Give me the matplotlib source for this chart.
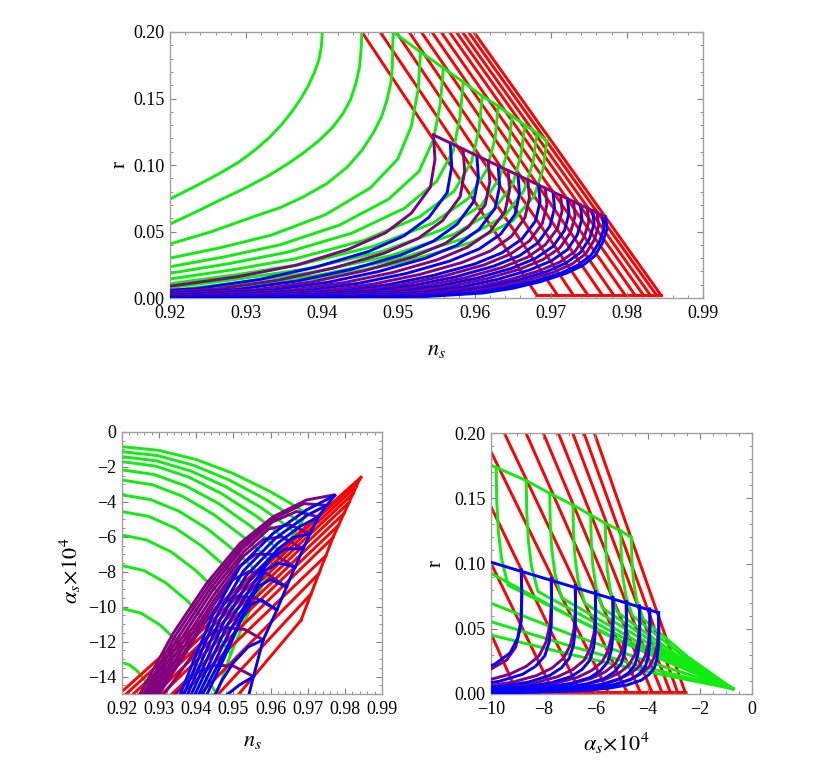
import matplotlib
matplotlib.use("Agg")
import matplotlib.pyplot as plt
from matplotlib.ticker import FixedLocator, FuncFormatter

plt.rcParams['font.family'] = ['Liberation Serif', 'DejaVu Serif']
plt.rcParams['mathtext.fontset'] = 'stix'

RED, GREEN, BLUE, PURPLE = '#ff0000', '#10ec10', '#0000ff', '#800080'
LW = 2.1

# ---------------- top panel: n_s vs r ----------------
top_red_ns_top = [0.9452, 0.9476, 0.9497, 0.9514, 0.9530, 0.9544, 0.9556, 0.9567, 0.9576, 0.9584, 0.9592, 0.9599]
top_red_ns_bot = [0.9682, 0.9709, 0.9730, 0.9749, 0.9768, 0.9783, 0.9798, 0.9811, 0.9822, 0.9831, 0.9839, 0.9845]
top_red_r_top = 0.200
top_red_r_bot = 0.002

top_green = [
    ([0.9200, 0.9240, 0.9266, 0.9290, 0.9311, 0.9331, 0.9346, 0.9360, 0.9372, 0.9382, 0.9390, 0.9396, 0.9399, 0.9400],
     [0.0744, 0.0860, 0.0940, 0.1020, 0.1110, 0.1210, 0.1300, 0.1400, 0.1500, 0.1600, 0.1700, 0.1800, 0.1900, 0.2000]),
    ([0.9200, 0.9235, 0.9266, 0.9300, 0.9331, 0.9355, 0.9375, 0.9396, 0.9414, 0.9427, 0.9437, 0.9444, 0.9449, 0.9451, 0.9452],
     [0.0556, 0.0650, 0.0737, 0.0830, 0.0925, 0.1010, 0.1090, 0.1185, 0.1286, 0.1385, 0.1490, 0.1610, 0.1740, 0.1870, 0.2000]),
    ([0.9200, 0.9255, 0.9309, 0.9345, 0.9375, 0.9406, 0.9433, 0.9452, 0.9467, 0.9478, 0.9485, 0.9490, 0.9492, 0.9493],
     [0.0406, 0.0500, 0.0610, 0.0680, 0.0760, 0.0860, 0.0985, 0.1110, 0.1240, 0.1365, 0.1490, 0.1615, 0.1740, 0.2000]),
    ([0.9200, 0.9266, 0.9332, 0.9404, 0.9463, 0.9499, 0.9517, 0.9526, 0.9529], [0.0300, 0.0378, 0.0471, 0.0626, 0.0827, 0.1044, 0.1292, 0.1571, 0.1850]),
    ([0.9200, 0.9272, 0.9344, 0.9423, 0.9487, 0.9527, 0.9546, 0.9555, 0.9559], [0.0235, 0.0310, 0.0399, 0.0549, 0.0743, 0.0952, 0.1191, 0.1460, 0.1729]),
    ([0.9200, 0.9277, 0.9354, 0.9439, 0.9508, 0.9550, 0.9572, 0.9581, 0.9585], [0.0186, 0.0258, 0.0344, 0.0488, 0.0675, 0.0876, 0.1106, 0.1365, 0.1624]),
    ([0.9200, 0.9282, 0.9364, 0.9454, 0.9528, 0.9573, 0.9596, 0.9606, 0.9610], [0.0143, 0.0212, 0.0294, 0.0432, 0.0611, 0.0803, 0.1024, 0.1271, 0.1519]),
    ([0.9200, 0.9286, 0.9372, 0.9467, 0.9545, 0.9592, 0.9616, 0.9627, 0.9631], [0.0107, 0.0174, 0.0254, 0.0388, 0.0562, 0.0749, 0.0963, 0.1203, 0.1444]),
    ([0.9200, 0.9290, 0.9380, 0.9478, 0.9559, 0.9609, 0.9633, 0.9645, 0.9649], [0.0078, 0.0143, 0.0220, 0.0349, 0.0517, 0.0697, 0.0904, 0.1136, 0.1368]),
    ([0.9200, 0.9293, 0.9386, 0.9489, 0.9573, 0.9624, 0.9650, 0.9661, 0.9666], [0.0055, 0.0117, 0.0192, 0.0317, 0.0479, 0.0653, 0.0852, 0.1077, 0.1301]),
    ([0.9200, 0.9296, 0.9393, 0.9499, 0.9586, 0.9639, 0.9665, 0.9677, 0.9682], [0.0038, 0.0098, 0.0170, 0.0291, 0.0447, 0.0613, 0.0808, 0.1025, 0.1241]),
    ([0.9200, 0.9299, 0.9398, 0.9507, 0.9596, 0.9650, 0.9678, 0.9690, 0.9695], [0.0025, 0.0083, 0.0152, 0.0268, 0.0418, 0.0579, 0.0764, 0.0972, 0.1180]),
]
top_green_env_ns = [0.9493, 0.9529, 0.9559, 0.9585, 0.9610, 0.9631, 0.9649, 0.9666, 0.9682, 0.9695]
top_green_env_r = [0.2000, 0.1850, 0.1729, 0.1624, 0.1519, 0.1444, 0.1368, 0.1301, 0.1241, 0.1180]

top_bp = [
    ([0.9546, 0.9548, 0.9542, 0.9517, 0.9483, 0.9435, 0.9365, 0.9289, 0.9204, 0.9052], [0.1226, 0.1042, 0.0834, 0.0638, 0.0490, 0.0368, 0.0245, 0.0160, 0.0092, 0.0030]),
    ([0.9568, 0.9570, 0.9564, 0.9540, 0.9507, 0.9461, 0.9392, 0.9318, 0.9235, 0.9087], [0.1165, 0.0990, 0.0792, 0.0606, 0.0466, 0.0350, 0.0233, 0.0140, 0.0070, 0.0023]),
    ([0.9585, 0.9587, 0.9581, 0.9558, 0.9526, 0.9481, 0.9414, 0.9342, 0.9261, 0.9117], [0.1119, 0.0951, 0.0761, 0.0582, 0.0448, 0.0336, 0.0224, 0.0134, 0.0067, 0.0022]),
    ([0.9603, 0.9605, 0.9599, 0.9577, 0.9546, 0.9502, 0.9437, 0.9367, 0.9288, 0.9148], [0.1068, 0.0908, 0.0726, 0.0555, 0.0427, 0.0320, 0.0214, 0.0128, 0.0064, 0.0021]),
    ([0.9618, 0.9620, 0.9614, 0.9592, 0.9562, 0.9519, 0.9456, 0.9388, 0.9312, 0.9176], [0.1029, 0.0875, 0.0700, 0.0535, 0.0412, 0.0309, 0.0206, 0.0123, 0.0062, 0.0021]),
    ([0.9631, 0.9633, 0.9627, 0.9606, 0.9577, 0.9535, 0.9474, 0.9408, 0.9334, 0.9202, 0.9100], [0.0993, 0.0844, 0.0675, 0.0516, 0.0397, 0.0298, 0.0199, 0.0119, 0.0060, 0.0020, 0.0005]),
    ([0.9644, 0.9646, 0.9640, 0.9620, 0.9591, 0.9551, 0.9492, 0.9428, 0.9356, 0.9228, 0.9100], [0.0957, 0.0813, 0.0651, 0.0498, 0.0383, 0.0287, 0.0191, 0.0115, 0.0057, 0.0019, 0.0005]),
    ([0.9657, 0.9659, 0.9653, 0.9634, 0.9606, 0.9567, 0.9510, 0.9448, 0.9378, 0.9254, 0.9100], [0.0922, 0.0784, 0.0627, 0.0479, 0.0369, 0.0277, 0.0184, 0.0111, 0.0055, 0.0018, 0.0004]),
    ([0.9670, 0.9672, 0.9666, 0.9648, 0.9621, 0.9583, 0.9528, 0.9468, 0.9400, 0.9280, 0.9100], [0.0886, 0.0753, 0.0602, 0.0461, 0.0354, 0.0266, 0.0177, 0.0106, 0.0053, 0.0018, 0.0004]),
    ([0.9684, 0.9686, 0.9680, 0.9662, 0.9636, 0.9600, 0.9546, 0.9488, 0.9423, 0.9307, 0.9100], [0.0850, 0.0723, 0.0578, 0.0442, 0.0340, 0.0255, 0.0170, 0.0102, 0.0051, 0.0017, 0.0003]),
    ([0.9693, 0.9695, 0.9689, 0.9672, 0.9647, 0.9612, 0.9560, 0.9504, 0.9441, 0.9329, 0.9100], [0.0825, 0.0701, 0.0561, 0.0429, 0.0330, 0.0248, 0.0165, 0.0099, 0.0050, 0.0017, 0.0003]),
    ([0.9703, 0.9705, 0.9699, 0.9683, 0.9659, 0.9625, 0.9575, 0.9521, 0.9460, 0.9352, 0.9100], [0.0796, 0.0677, 0.0541, 0.0414, 0.0318, 0.0239, 0.0159, 0.0096, 0.0048, 0.0016, 0.0003]),
    ([0.9713, 0.9715, 0.9709, 0.9693, 0.9670, 0.9637, 0.9589, 0.9537, 0.9479, 0.9375, 0.9100], [0.0771, 0.0655, 0.0524, 0.0401, 0.0308, 0.0231, 0.0154, 0.0093, 0.0046, 0.0015, 0.0003]),
    ([0.9722, 0.9724, 0.9718, 0.9703, 0.9680, 0.9649, 0.9603, 0.9553, 0.9497, 0.9397, 0.9100], [0.0746, 0.0634, 0.0507, 0.0388, 0.0298, 0.0224, 0.0149, 0.0090, 0.0045, 0.0015, 0.0002]),
    ([0.9730, 0.9732, 0.9726, 0.9712, 0.9690, 0.9660, 0.9616, 0.9568, 0.9514, 0.9418, 0.9100], [0.0725, 0.0616, 0.0493, 0.0377, 0.0290, 0.0218, 0.0145, 0.0087, 0.0044, 0.0015, 0.0002]),
    ([0.9739, 0.9741, 0.9735, 0.9722, 0.9701, 0.9672, 0.9630, 0.9584, 0.9532, 0.9440, 0.9100], [0.0700, 0.0595, 0.0476, 0.0364, 0.0280, 0.0210, 0.0140, 0.0084, 0.0042, 0.0014, 0.0002]),
    ([0.9748, 0.9750, 0.9744, 0.9732, 0.9712, 0.9684, 0.9644, 0.9600, 0.9550, 0.9462, 0.9100], [0.0675, 0.0574, 0.0459, 0.0351, 0.0270, 0.0203, 0.0135, 0.0081, 0.0041, 0.0014, 0.0002]),
    ([0.9755, 0.9757, 0.9751, 0.9739, 0.9720, 0.9694, 0.9655, 0.9613, 0.9566, 0.9482, 0.9100], [0.0657, 0.0558, 0.0447, 0.0342, 0.0263, 0.0197, 0.0131, 0.0079, 0.0039, 0.0013, 0.0002]),
    ([0.9761, 0.9763, 0.9757, 0.9746, 0.9728, 0.9703, 0.9666, 0.9626, 0.9581, 0.9501, 0.9100], [0.0639, 0.0543, 0.0435, 0.0332, 0.0256, 0.0192, 0.0128, 0.0077, 0.0038, 0.0013, 0.0002]),
    ([0.9768, 0.9770, 0.9764, 0.9753, 0.9736, 0.9713, 0.9677, 0.9639, 0.9597, 0.9521, 0.9100], [0.0621, 0.0528, 0.0422, 0.0323, 0.0248, 0.0186, 0.0124, 0.0075, 0.0037, 0.0012, 0.0002]),
    ([0.9772, 0.9774, 0.9768, 0.9758, 0.9742, 0.9719, 0.9686, 0.9650, 0.9610, 0.9538, 0.9100], [0.0610, 0.0519, 0.0415, 0.0317, 0.0244, 0.0183, 0.0122, 0.0073, 0.0037, 0.0012, 0.0002]),
]
top_bp_colors = [PURPLE, BLUE] * 10 + [BLUE]
top_env_ns = [0.9546, 0.9772]
top_env_r = [0.1226, 0.0610]

# ---------------- bottom left: n_s vs alpha_s ----------------
bl_red_bound_ns = [0.9682, 0.9709, 0.9730, 0.9749, 0.9768, 0.9783, 0.9798, 0.9811, 0.9822, 0.9831, 0.9839, 0.9843]
bl_red_bound_a = [-10.78, -9.27, -8.11, -7.08, -6.04, -5.34, -4.65, -4.04, -3.53, -3.11, -2.74, -2.60]
bl_red_far_ns = [0.9475, 0.9416, 0.9364, 0.9312, 0.9286, 0.9258, 0.9240, 0.9220, 0.9200, 0.9180, 0.9160, 0.9140]
bl_red_far_a = -16.0

bl_green = [
    ([0.9200, 0.9220, 0.9240, 0.9260, 0.9280, 0.9290, 0.9300], [-13.20, -13.33, -13.66, -14.16, -14.81, -15.18, -15.60]),
    ([0.9200, 0.9251, 0.9302, 0.9353, 0.9404, 0.9430, 0.9455], [-10.10, -10.37, -11.04, -12.06, -13.38, -14.15, -15.00]),
    ([0.9200, 0.9259, 0.9317, 0.9376, 0.9434, 0.9464, 0.9493], [-7.65, -7.93, -8.62, -9.67, -11.03, -11.83, -12.70]),
    ([0.9200, 0.9266, 0.9332, 0.9397, 0.9463, 0.9496, 0.9529], [-5.90, -6.18, -6.86, -7.90, -9.25, -10.04, -10.90]),
    ([0.9200, 0.9272, 0.9344, 0.9415, 0.9487, 0.9523, 0.9559], [-4.56, -4.83, -5.51, -6.53, -7.86, -8.65, -9.50]),
    ([0.9200, 0.9277, 0.9354, 0.9431, 0.9508, 0.9547, 0.9585], [-3.60, -3.87, -4.54, -5.56, -6.88, -7.65, -8.50]),
    ([0.9200, 0.9282, 0.9364, 0.9446, 0.9528, 0.9569, 0.9610], [-2.75, -3.02, -3.69, -4.71, -6.03, -6.80, -7.65]),
    ([0.9200, 0.9286, 0.9372, 0.9459, 0.9545, 0.9588, 0.9631], [-2.17, -2.43, -3.09, -4.08, -5.37, -6.12, -6.95]),
    ([0.9200, 0.9290, 0.9380, 0.9469, 0.9559, 0.9604, 0.9649], [-1.70, -1.95, -2.58, -3.54, -4.78, -5.50, -6.30]),
    ([0.9200, 0.9293, 0.9386, 0.9480, 0.9573, 0.9619, 0.9666], [-1.41, -1.65, -2.24, -3.14, -4.31, -5.00, -5.75]),
    ([0.9200, 0.9296, 0.9393, 0.9489, 0.9586, 0.9634, 0.9682], [-1.13, -1.35, -1.91, -2.75, -3.85, -4.50, -5.20]),
    ([0.9200, 0.9299, 0.9399, 0.9498, 0.9598, 0.9647, 0.9697], [-0.84, -1.05, -1.57, -2.36, -3.40, -4.00, -4.66]),
]
bl_green_env_ns = [0.9697, 0.9682, 0.9666, 0.9649, 0.9631, 0.9610, 0.9585, 0.9559, 0.9529, 0.9493, 0.9455, 0.9300]
bl_green_env_a = [-4.66, -5.20, -5.75, -6.30, -6.95, -7.65, -8.50, -9.50, -10.90, -12.70, -15.00, -15.60]

bl_purple = [
    ([0.9554, 0.9500, 0.9450, 0.9405, 0.9370, 0.9340], [-14.00, -13.40, -13.35, -13.75, -14.40, -15.10]),
    ([0.9580, 0.9530, 0.9480, 0.9435, 0.9395, 0.9355, 0.9310], [-11.90, -11.30, -11.20, -11.60, -12.60, -13.80, -15.10]),
    ([0.9617, 0.9560, 0.9510, 0.9465, 0.9420, 0.9370, 0.9297], [-10.19, -9.50, -9.40, -9.80, -11.00, -12.70, -15.10]),
    ([0.9643, 0.9590, 0.9540, 0.9495, 0.9445, 0.9374, 0.9290], [-8.87, -8.10, -8.00, -8.50, -9.95, -12.40, -15.10]),
    ([0.9666, 0.9610, 0.9560, 0.9515, 0.9450, 0.9368, 0.9283], [-7.73, -7.00, -7.00, -7.70, -9.55, -12.25, -15.10]),
    ([0.9688, 0.9630, 0.9580, 0.9525, 0.9448, 0.9362, 0.9276], [-6.68, -6.00, -6.15, -7.15, -9.30, -12.10, -15.10]),
    ([0.9706, 0.9650, 0.9595, 0.9528, 0.9443, 0.9356, 0.9269], [-5.82, -5.30, -5.55, -6.85, -9.10, -11.95, -15.10]),
    ([0.9729, 0.9670, 0.9605, 0.9525, 0.9438, 0.9350, 0.9262], [-4.86, -4.55, -5.15, -6.65, -8.95, -11.80, -15.10]),
    ([0.9751, 0.9690, 0.9610, 0.9522, 0.9433, 0.9344, 0.9255], [-4.20, -4.10, -4.95, -6.50, -8.80, -11.65, -15.10]),
    ([0.9769, 0.9697, 0.9607, 0.9518, 0.9428, 0.9338, 0.9248], [-3.61, -3.89, -4.85, -6.37, -8.66, -11.52, -15.00]),
]
bl_blue = [
    ([0.9554, 0.9515, 0.9482], [-14.00, -14.50, -15.05]),
    ([0.9580, 0.9540, 0.9500, 0.9470, 0.9450], [-11.90, -12.30, -13.20, -14.20, -15.05]),
    ([0.9617, 0.9575, 0.9545, 0.9520, 0.9495, 0.9465, 0.9428], [-10.19, -9.60, -9.90, -10.80, -12.00, -13.40, -15.05]),
    ([0.9643, 0.9600, 0.9570, 0.9540, 0.9505, 0.9460, 0.9416], [-8.87, -8.45, -8.80, -9.80, -11.40, -13.25, -15.05]),
    ([0.9666, 0.9620, 0.9585, 0.9555, 0.9495, 0.9450, 0.9406], [-7.73, -7.50, -7.95, -9.10, -11.20, -13.15, -15.05]),
    ([0.9688, 0.9640, 0.9600, 0.9552, 0.9485, 0.9440, 0.9396], [-6.68, -6.70, -7.25, -8.75, -11.00, -13.05, -15.05]),
    ([0.9706, 0.9660, 0.9620, 0.9545, 0.9475, 0.9430, 0.9386], [-5.82, -6.05, -6.70, -8.45, -10.85, -12.95, -15.05]),
    ([0.9729, 0.9680, 0.9620, 0.9535, 0.9465, 0.9420, 0.9376], [-4.86, -5.40, -6.35, -8.20, -10.70, -12.85, -15.05]),
    ([0.9751, 0.9700, 0.9615, 0.9527, 0.9455, 0.9410, 0.9366], [-4.20, -4.75, -6.05, -7.95, -10.55, -12.75, -15.05]),
    ([0.9773, 0.9697, 0.9607, 0.9518, 0.9446, 0.9401, 0.9356], [-3.63, -4.46, -5.80, -7.71, -10.38, -12.67, -15.05]),
]
bl_tips_ns = [0.9530, 0.9554, 0.9580, 0.9617, 0.9643, 0.9666, 0.9688, 0.9706, 0.9729, 0.9751, 0.9773]
bl_tips_a = [-16.00, -14.00, -11.90, -10.19, -8.87, -7.73, -6.68, -5.82, -4.86, -4.20, -3.63]

# ---------------- bottom right: alpha_s vs r ----------------
br_red = [
    ([-10.30, -9.02], [0.0600, 0.0018]),
    ([-10.30, -7.62], [0.1125, 0.0018]),
    ([-10.30, -6.59], [0.1560, 0.0018]),
    ([-10.30, -5.52], [0.1980, 0.0018]),
    ([-9.49, -4.80], [0.2000, 0.0018]),
    ([-8.66, -4.29], [0.2000, 0.0018]),
    ([-8.00, -3.84], [0.2000, 0.0018]),
    ([-7.42, -3.46], [0.2000, 0.0018]),
    ([-6.87, -3.14], [0.2000, 0.0018]),
    ([-6.44, -2.86], [0.2000, 0.0018]),
    ([-6.04, -2.57], [0.2000, 0.0018]),
]
br_red_base_a = [-10.75, -2.57]
br_red_base_r = [0.0018, 0.0018]

br_green = [
    ([-10.00, -7.00, -4.00, -0.73], [0.0452, 0.0305, 0.0170, 0.0040]),
    ([-10.00, -7.00, -4.00, -0.73], [0.0554, 0.0370, 0.0200, 0.0040]),
    ([-10.00, -7.00, -4.00, -0.73], [0.0695, 0.0460, 0.0250, 0.0040]),
    ([-10.00, -7.00, -4.00, -0.73], [0.0925, 0.0600, 0.0310, 0.0040]),
    ([-9.80, -9.78, -9.72, -9.60, -9.35, -5.04, -0.73], [0.1737, 0.1476, 0.1251, 0.1042, 0.0834, 0.0402, 0.0040]),
    ([-8.65, -8.63, -8.57, -8.45, -8.20, -4.47, -0.73], [0.1635, 0.1390, 0.1177, 0.0981, 0.0785, 0.0380, 0.0040]),
    ([-7.75, -7.73, -7.67, -7.55, -7.30, -4.02, -0.73], [0.1538, 0.1307, 0.1107, 0.0923, 0.0738, 0.0358, 0.0040]),
    ([-6.86, -6.84, -6.78, -6.66, -6.41, -3.57, -0.73], [0.1448, 0.1231, 0.1043, 0.0869, 0.0695, 0.0338, 0.0040]),
    ([-6.18, -6.16, -6.10, -5.98, -5.73, -3.23, -0.73], [0.1372, 0.1166, 0.0988, 0.0823, 0.0659, 0.0322, 0.0040]),
    ([-5.62, -5.60, -5.54, -5.42, -5.17, -2.95, -0.73], [0.1308, 0.1112, 0.0942, 0.0785, 0.0628, 0.0307, 0.0040]),
    ([-5.03, -5.01, -4.95, -4.83, -4.58, -2.66, -0.73], [0.1250, 0.1063, 0.0900, 0.0750, 0.0600, 0.0294, 0.0040]),
    ([-4.62, -4.60, -4.54, -4.42, -4.17, -2.45, -0.73], [0.1200, 0.1020, 0.0864, 0.0720, 0.0576, 0.0283, 0.0040]),
]
br_green_env_a = [-10.50, -9.80, -8.65, -7.75, -6.86, -6.18, -5.62, -5.03, -4.62]
br_green_env_r = [0.1790, 0.1737, 0.1635, 0.1538, 0.1448, 0.1372, 0.1308, 0.1250, 0.1200]

br_blue = [
    ([-8.84, -8.82, -8.84, -8.98, -9.27, -9.86, -10.71], [0.0950, 0.0760, 0.0570, 0.0428, 0.0314, 0.0228, 0.0162]),
    ([-7.69, -7.68, -7.69, -7.77, -7.94, -8.29, -8.79, -9.69, -10.89], [0.0886, 0.0709, 0.0532, 0.0399, 0.0292, 0.0213, 0.0151, 0.0097, 0.0062]),
    ([-6.77, -6.76, -6.77, -6.84, -7.00, -7.31, -7.76, -8.57, -9.65, -10.91], [0.0830, 0.0664, 0.0498, 0.0374, 0.0274, 0.0199, 0.0141, 0.0091, 0.0058, 0.0037]),
    ([-6.00, -5.99, -6.00, -6.07, -6.21, -6.51, -6.94, -7.70, -8.72, -9.91, -11.53], [0.0784, 0.0627, 0.0470, 0.0353, 0.0259, 0.0188, 0.0133, 0.0086, 0.0055, 0.0035, 0.0024]),
    ([-5.33, -5.32, -5.33, -5.39, -5.53, -5.81, -6.21, -6.93, -7.89, -9.01, -10.53], [0.0741, 0.0593, 0.0445, 0.0333, 0.0245, 0.0178, 0.0126, 0.0082, 0.0052, 0.0033, 0.0022]),
    ([-4.82, -4.81, -4.82, -4.88, -5.01, -5.27, -5.65, -6.32, -7.22, -8.27, -9.70, -11.57], [0.0707, 0.0566, 0.0424, 0.0318, 0.0233, 0.0170, 0.0120, 0.0078, 0.0049, 0.0032, 0.0021, 0.0014]),
    ([-4.31, -4.30, -4.31, -4.37, -4.49, -4.73, -5.08, -5.71, -6.55, -7.53, -8.86, -10.61], [0.0674, 0.0539, 0.0404, 0.0303, 0.0222, 0.0162, 0.0115, 0.0074, 0.0047, 0.0030, 0.0020, 0.0013]),
    ([-3.92, -3.91, -3.92, -3.97, -4.08, -4.31, -4.64, -5.22, -6.00, -6.91, -8.15, -9.77, -11.00], [0.0651, 0.0521, 0.0391, 0.0293, 0.0215, 0.0156, 0.0111, 0.0072, 0.0046, 0.0029, 0.0020, 0.0013, 0.0010]),
    ([-3.58, -3.57, -3.58, -3.63, -3.73, -3.94, -4.24, -4.78, -5.50, -6.34, -7.48, -8.98, -11.00], [0.0623, 0.0498, 0.0374, 0.0280, 0.0206, 0.0150, 0.0106, 0.0069, 0.0044, 0.0028, 0.0019, 0.0012, 0.0008]),
]
br_purple = [
    ([-8.84, -8.82, -8.86, -9.05, -9.40, -10.10], [0.0950, 0.0760, 0.0520, 0.0360, 0.0260, 0.0180]),
    ([-7.69, -7.68, -7.74, -7.89, -8.16, -8.64, -9.29, -10.29, -11.49], [0.0886, 0.0709, 0.0532, 0.0399, 0.0292, 0.0213, 0.0151, 0.0097, 0.0062]),
    ([-6.77, -6.76, -6.82, -6.96, -7.22, -7.66, -8.26, -9.17, -10.25, -11.51], [0.0830, 0.0664, 0.0498, 0.0374, 0.0274, 0.0199, 0.0141, 0.0091, 0.0058, 0.0037]),
    ([-6.00, -5.99, -6.05, -6.19, -6.43, -6.86, -7.44, -8.30, -9.32, -10.51, -12.13], [0.0784, 0.0627, 0.0470, 0.0353, 0.0259, 0.0188, 0.0133, 0.0086, 0.0055, 0.0035, 0.0024]),
    ([-5.33, -5.32, -5.38, -5.51, -5.75, -6.16, -6.71, -7.53, -8.49, -9.61, -11.13], [0.0741, 0.0593, 0.0445, 0.0333, 0.0245, 0.0178, 0.0126, 0.0082, 0.0052, 0.0033, 0.0022]),
    ([-4.82, -4.81, -4.87, -5.00, -5.23, -5.62, -6.15, -6.92, -7.82, -8.87, -10.30, -12.17], [0.0707, 0.0566, 0.0424, 0.0318, 0.0233, 0.0170, 0.0120, 0.0078, 0.0049, 0.0032, 0.0021, 0.0014]),
    ([-4.31, -4.30, -4.36, -4.49, -4.71, -5.08, -5.58, -6.31, -7.15, -8.13, -9.46, -11.21], [0.0674, 0.0539, 0.0404, 0.0303, 0.0222, 0.0162, 0.0115, 0.0074, 0.0047, 0.0030, 0.0020, 0.0013]),
    ([-3.92, -3.91, -3.97, -4.09, -4.30, -4.66, -5.14, -5.82, -6.60, -7.51, -8.75, -10.37, -11.60], [0.0651, 0.0521, 0.0391, 0.0293, 0.0215, 0.0156, 0.0111, 0.0072, 0.0046, 0.0029, 0.0020, 0.0013, 0.0010]),
    ([-3.58, -3.57, -3.63, -3.75, -3.95, -4.29, -4.74, -5.38, -6.10, -6.94, -8.08, -9.58, -11.60], [0.0623, 0.0498, 0.0374, 0.0280, 0.0206, 0.0150, 0.0106, 0.0069, 0.0044, 0.0028, 0.0019, 0.0012, 0.0008]),
]
br_env_a = [-10.50, -3.58]
br_env_r = [0.1040, 0.0623]

ns_ticks = [0.92, 0.93, 0.94, 0.95, 0.96, 0.97, 0.98, 0.99]
r_ticks = [0.00, 0.05, 0.10, 0.15, 0.20]
a_ticks_left = [0, -2, -4, -6, -8, -10, -12, -14]
a_ticks_right = [-10, -8, -6, -4, -2, 0]


def minus(v, p):
    return f"{v:.0f}".replace("-", "\u2212")


def two(v, p):
    return f"{v:.2f}"


def frame(ax, xt, xminor, yt, yminor, xfmt, yfmt):
    ax.xaxis.set_major_locator(FixedLocator(xt))
    ax.yaxis.set_major_locator(FixedLocator(yt))
    ax.xaxis.set_minor_locator(FixedLocator(xminor))
    ax.yaxis.set_minor_locator(FixedLocator(yminor))
    ax.xaxis.set_major_formatter(FuncFormatter(xfmt))
    ax.yaxis.set_major_formatter(FuncFormatter(yfmt))
    ax.tick_params(which='both', direction='in', top=True, right=True,
                   color='#808080', labelsize=13)
    ax.tick_params(axis='x', pad=5)
    ax.tick_params(axis='y', pad=4)
    ax.tick_params(which='major', length=4.5, width=0.8)
    ax.tick_params(which='minor', length=2.5, width=0.6)
    for s in ax.spines.values():
        s.set_color('#a0a0a0')
        s.set_linewidth(1.0)


fig = plt.figure(figsize=(8.17, 7.72), dpi=100)

# top panel
ax1 = fig.add_axes([170 / 817, 1 - 298 / 772, 533 / 817, 266 / 772])
for nt, nb in zip(top_red_ns_top, top_red_ns_bot):
    ax1.plot([nt, nb], [top_red_r_top, top_red_r_bot], color=RED, lw=LW, zorder=1)
ax1.plot([top_red_ns_bot[0], top_red_ns_bot[-1]], [top_red_r_bot, top_red_r_bot], color=RED, lw=LW, zorder=1)
for xs, ys in top_green:
    ax1.plot(xs, ys, color=GREEN, lw=LW, zorder=2)
ax1.plot(top_green_env_ns, top_green_env_r, color=GREEN, lw=LW, zorder=2)
for (xs, ys), c in zip(top_bp, top_bp_colors):
    ax1.plot(xs, ys, color=c, lw=LW, zorder=3)
ax1.plot(top_env_ns, top_env_r, color=PURPLE, lw=LW, zorder=4)
ax1.set_xlim(0.92, 0.99)
ax1.set_ylim(0.0, 0.2)
frame(ax1, ns_ticks, [0.92 + 0.002 * i for i in range(36)], r_ticks,
      [0.01 * i for i in range(21)], two, two)
ax1.set_xlabel(r'$n_s$', fontsize=16)
ax1.set_ylabel('r', fontsize=15)
ax1.xaxis.set_label_coords(0.5, -0.16)
ax1.yaxis.set_label_coords(-0.075, 0.5)

# bottom left
ax2 = fig.add_axes([122 / 817, 1 - 694 / 772, 260 / 817, 262 / 772])
for xs, ys in bl_green:
    ax2.plot(xs, ys, color=GREEN, lw=LW, zorder=1)
ax2.plot(bl_green_env_ns, bl_green_env_a, color=GREEN, lw=LW, zorder=1)
for nb, ab, nf in zip(bl_red_bound_ns, bl_red_bound_a, bl_red_far_ns):
    ax2.plot([nb, nf], [ab, bl_red_far_a], color=RED, lw=LW, zorder=2)
ax2.plot(bl_red_bound_ns, bl_red_bound_a, color=RED, lw=LW, zorder=2)
for xs, ys in bl_purple:
    ax2.plot(xs, ys, color=PURPLE, lw=LW, zorder=3)
for xs, ys in bl_blue:
    ax2.plot(xs, ys, color=BLUE, lw=LW, zorder=4)
ax2.plot(bl_tips_ns, bl_tips_a, color=BLUE, lw=LW, zorder=4)
ax2.set_xlim(0.92, 0.99)
ax2.set_ylim(-15, 0)
frame(ax2, ns_ticks, [0.92 + 0.002 * i for i in range(36)], a_ticks_left,
      [-0.5 * i for i in range(31)], two, minus)
ax2.set_xlabel(r'$n_s$', fontsize=16)
ax2.set_ylabel(r'$\alpha_s\!\times\!10^4$', fontsize=16)
ax2.xaxis.set_label_coords(0.5, -0.145)
ax2.yaxis.set_label_coords(-0.15, 0.47)

# bottom right
ax3 = fig.add_axes([491 / 817, 1 - 694 / 772, 261 / 817, 261 / 772])
for xs, ys in br_red:
    ax3.plot(xs, ys, color=RED, lw=LW, zorder=1)
ax3.plot(br_red_base_a, br_red_base_r, color=RED, lw=LW, zorder=1)
for xs, ys in br_green:
    ax3.plot(xs, ys, color=GREEN, lw=LW, zorder=2)
ax3.plot(br_green_env_a, br_green_env_r, color=GREEN, lw=LW, zorder=2)
for xs, ys in br_purple:
    ax3.plot(xs, ys, color=PURPLE, lw=LW, zorder=3)
for xs, ys in br_blue:
    ax3.plot(xs, ys, color=BLUE, lw=LW, zorder=4)
ax3.plot(br_env_a, br_env_r, color=BLUE, lw=LW, zorder=4)
ax3.set_xlim(-10, 0)
ax3.set_ylim(0.0, 0.2)
frame(ax3, a_ticks_right, [-10 + 0.5 * i for i in range(21)], r_ticks,
      [0.01 * i for i in range(21)], minus, two)
ax3.set_xlabel(r'$\alpha_s\!\times\!10^4$', fontsize=16)
ax3.set_ylabel('r', fontsize=15)
ax3.xaxis.set_label_coords(0.48, -0.14)
ax3.yaxis.set_label_coords(-0.175, 0.5)

fig.savefig("out.png", dpi=100)
